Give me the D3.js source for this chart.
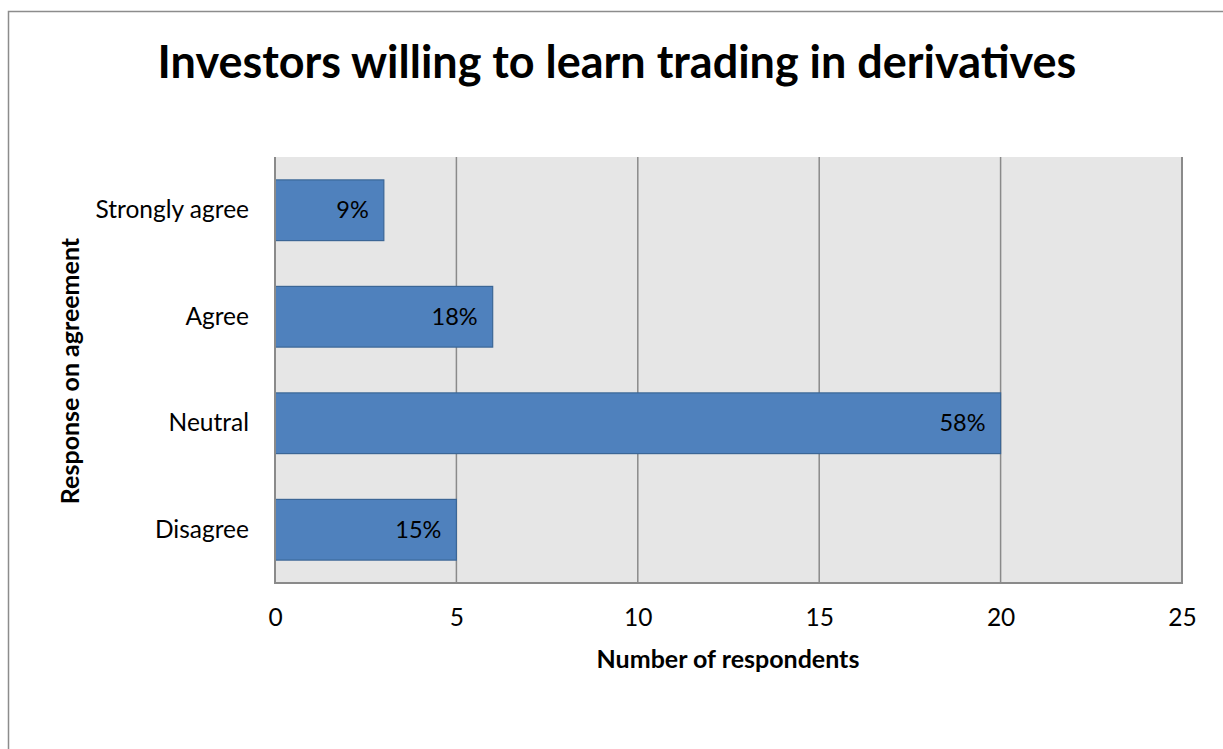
<!DOCTYPE html>
<html>
<head>
<meta charset="utf-8">
<script src="https://cdn.jsdelivr.net/npm/d3@7/dist/d3.min.js"></script>
<style>
  html, body { margin: 0; padding: 0; background: #fff; }
  svg { display: block; font-family: Lato, "Open Sans", sans-serif; }
</style>
</head>
<body>
<svg id="chart" width="1223" height="749"></svg>
<script>
// Survey responses: willingness to learn derivatives trading
const categories = ["Strongly agree", "Agree", "Neutral", "Disagree"];
const respondents = [3, 6, 20, 5];
const shareLabels = ["9%", "18%", "58%", "15%"];
const xTicks = [0, 5, 10, 15, 20, 25];

const titleText = "Investors willing to learn trading in derivatives";
const xTitle = "Number of respondents";
const yTitle = "Response on agreement";

const labelSize = 24.5;
const svg = d3.select("#chart");

// outer chart frame
svg.append("rect")
  .attr("x", 8.5).attr("y", 11.5)
  .attr("width", 1240).attr("height", 760)
  .attr("fill", "#fff").attr("stroke", "#8c8c8c").attr("stroke-width", 1.5);

const plot = { left: 275, top: 157, right: 1182, bottom: 583 };

const x = d3.scaleLinear().domain([0, 25]).range([plot.left, plot.right]);
const y = d3.scaleBand().domain(categories)
  .range([plot.top, plot.bottom]).paddingInner(0.43).paddingOuter(0.215);

// plot background
svg.append("rect")
  .attr("x", plot.left).attr("y", plot.top)
  .attr("width", plot.right - plot.left).attr("height", plot.bottom - plot.top)
  .attr("fill", "#e6e6e6");

// vertical gridlines
svg.append("g").selectAll("line")
  .data(xTicks.slice(1))
  .join("line")
  .attr("x1", d => x(d)).attr("x2", d => x(d))
  .attr("y1", plot.top).attr("y2", plot.bottom)
  .attr("stroke", "#8a8a8a").attr("stroke-width", 1.5);

// bars
svg.append("g").selectAll("rect")
  .data(categories)
  .join("rect")
  .attr("x", x(0))
  .attr("y", d => y(d))
  .attr("width", (d, i) => x(respondents[i]) - x(0))
  .attr("height", y.bandwidth())
  .attr("fill", "#4f81bd")
  .attr("stroke", "#3b6696").attr("stroke-width", 1.2);

// value labels inside bar ends
svg.append("g").selectAll("text")
  .data(categories)
  .join("text")
  .attr("x", (d, i) => x(respondents[i]) - 15)
  .attr("y", d => y(d) + y.bandwidth() / 2)
  .attr("dy", "0.35em")
  .attr("text-anchor", "end")
  .attr("font-size", 23.5)
  .attr("fill", "#000")
  .text((d, i) => shareLabels[i]);

// plot frame: left, bottom, right
svg.append("path")
  .attr("d", `M${plot.left},${plot.top}V${plot.bottom}H${plot.right}V${plot.top}`)
  .attr("fill", "none").attr("stroke", "#8a8a8a").attr("stroke-width", 2);

// x axis
const xAxis = svg.append("g")
  .attr("transform", `translate(0,${plot.bottom})`)
  .call(d3.axisBottom(x).tickValues(xTicks).tickSize(0).tickPadding(26));
xAxis.select(".domain").remove();
xAxis.selectAll("text").attr("font-size", labelSize).attr("fill", "#000")
  .attr("font-family", "Lato, 'Open Sans', sans-serif");

// y axis
const yAxis = svg.append("g")
  .attr("transform", `translate(${plot.left},0)`)
  .call(d3.axisLeft(y).tickSize(0).tickPadding(26));
yAxis.select(".domain").remove();
yAxis.selectAll("text").attr("font-size", labelSize).attr("fill", "#000")
  .attr("font-family", "Lato, 'Open Sans', sans-serif");

// title, fitted to its width
const t = svg.append("text")
  .attr("x", 617).attr("y", 78)
  .attr("text-anchor", "middle")
  .attr("font-weight", "bold").attr("font-size", 40)
  .text(titleText);
const tw = t.node().getComputedTextLength();
t.attr("font-size", 40 * 919 / tw);

svg.append("text")
  .attr("x", 728).attr("y", 668)
  .attr("text-anchor", "middle")
  .attr("font-weight", "bold").attr("font-size", 25)
  .text(xTitle);

svg.append("text")
  .attr("transform", "translate(79,371) rotate(-90)")
  .attr("text-anchor", "middle")
  .attr("font-weight", "bold").attr("font-size", 25)
  .text(yTitle);
</script>
</body>
</html>
